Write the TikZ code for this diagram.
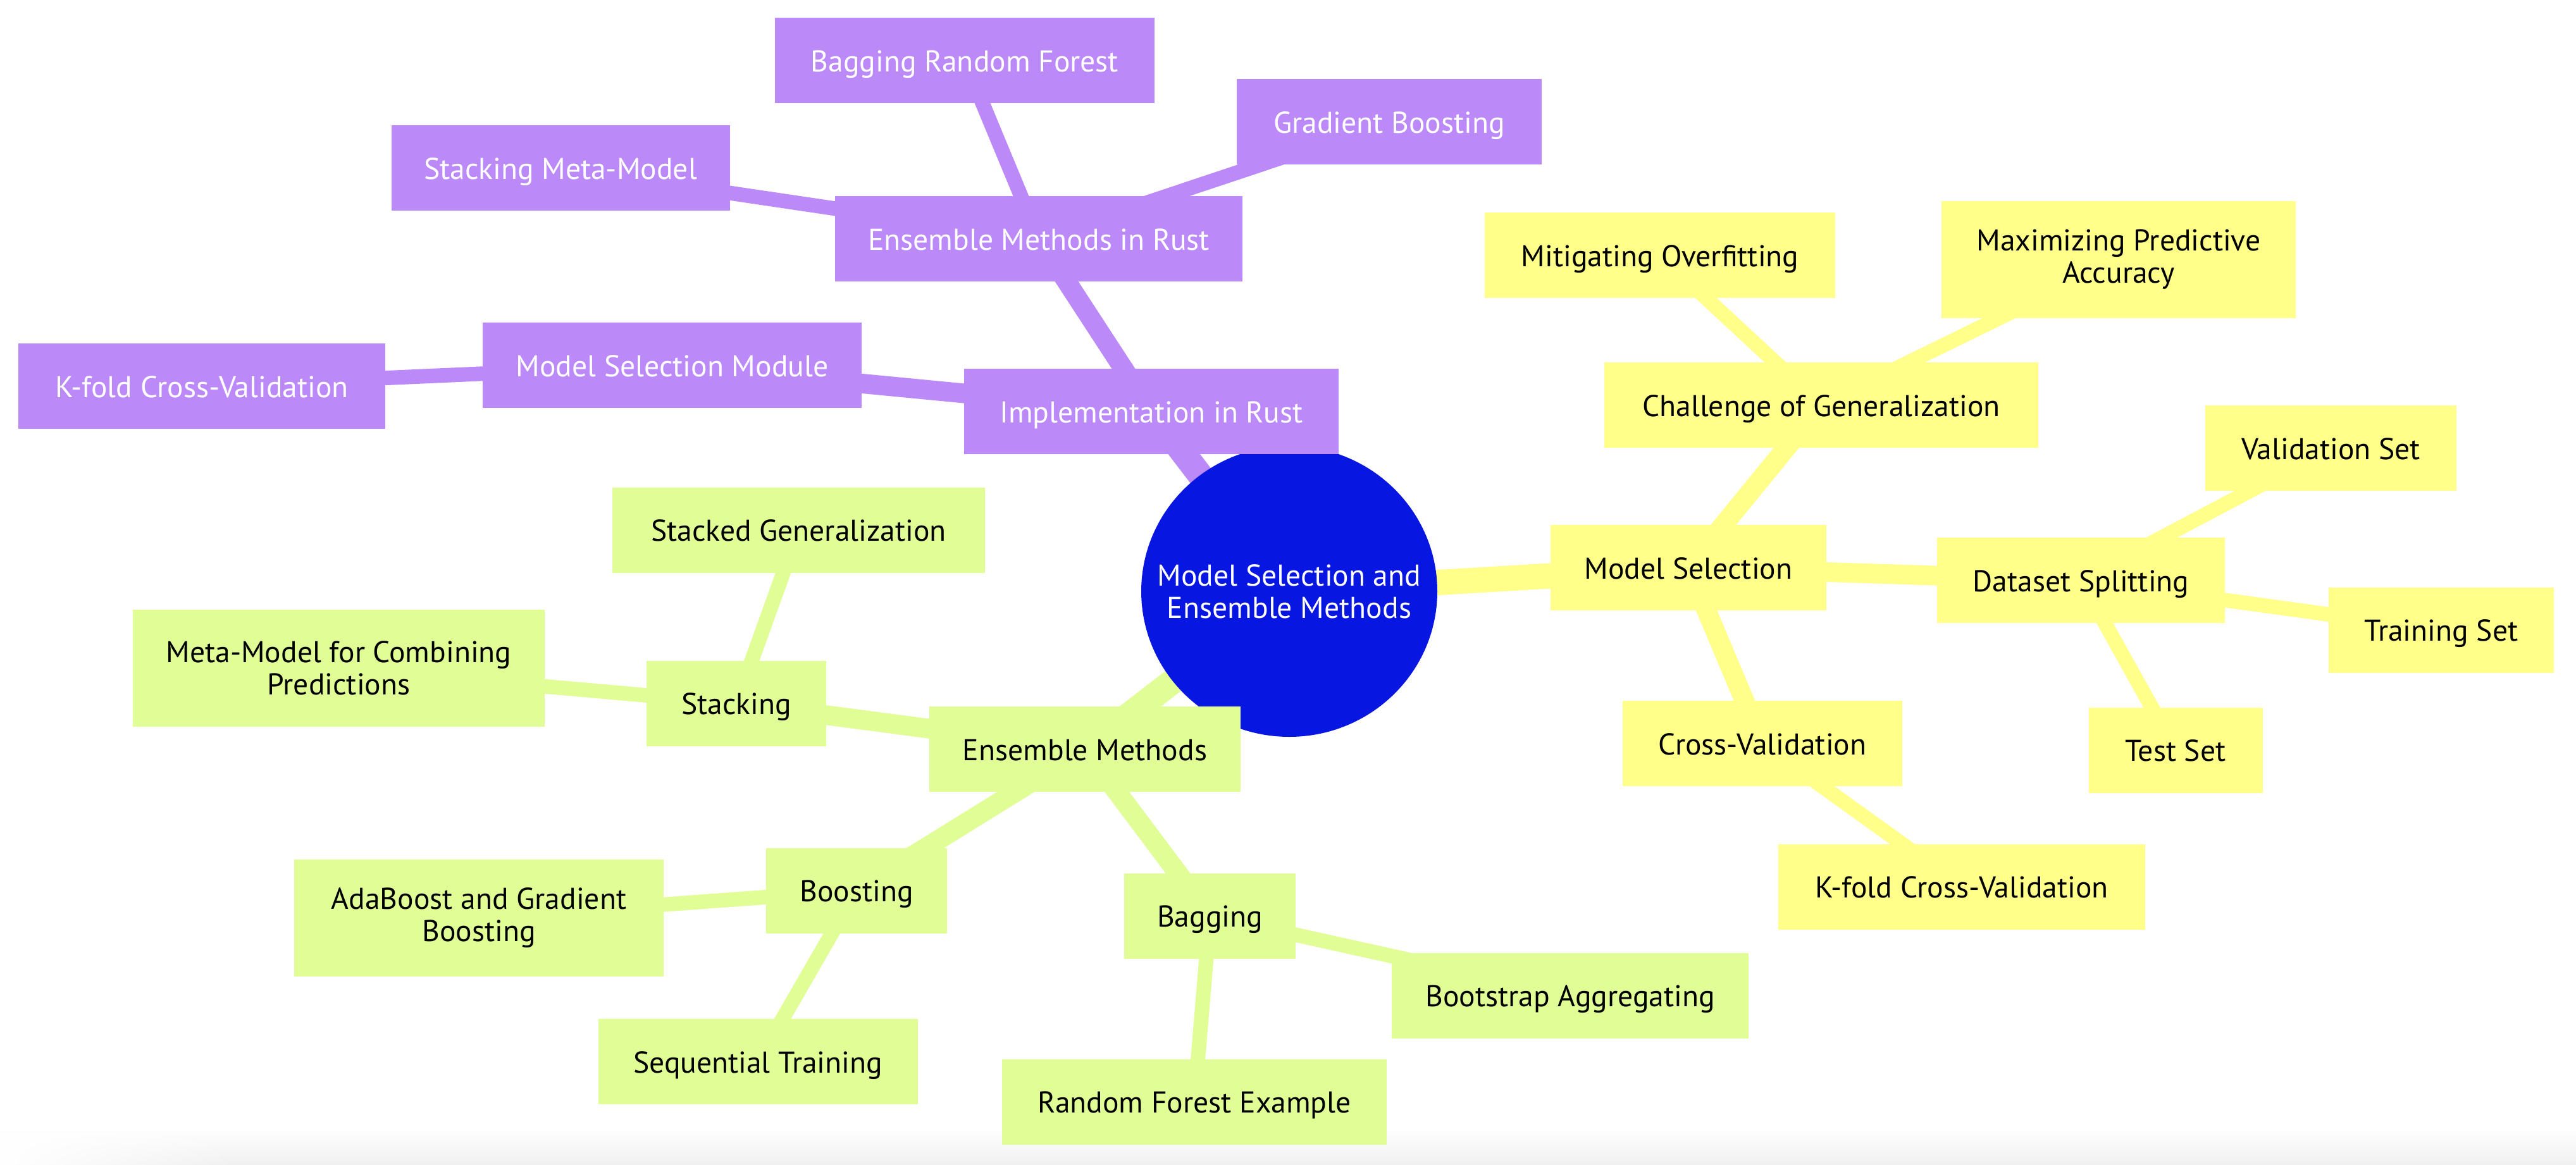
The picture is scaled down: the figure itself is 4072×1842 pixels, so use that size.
\documentclass[tikz,border=0pt]{standalone}
\usepackage{fontspec}
\setmainfont{PT Sans}
\usetikzlibrary{shapes.geometric,backgrounds,fadings}
\definecolor{purp}{RGB}{187,138,248}
\definecolor{yel}{RGB}{255,255,138}
\definecolor{grn}{RGB}{224,253,150}
\definecolor{rootblue}{RGB}{8,22,226}
\tikzfading[name=fadeR, left color=transparent!0, right color=transparent!100]
\begin{document}
\begin{tikzpicture}[x=0.25pt,y=-0.25pt,
  every node/.style={inner sep=0pt,outer sep=0pt},
  txt/.style={align=center,font=\fontsize{11.9pt}{12.75pt}\selectfont},
  mm/.style={rectangle,txt,minimum height=33.75pt},
  two/.style={minimum height=46.25pt},
  one/.style={text height=8.8pt,text depth=0pt},
  pnode/.style={mm,fill=purp,text=white},
  ynode/.style={mm,fill=yel,text=black},
  gnode/.style={mm,fill=grn,text=black},
  e1/.style={line width=10pt},
  e2/.style={line width=7.75pt},
  e3/.style={line width=5.75pt},
]
\useasboundingbox (0,0) rectangle (4072,1842);

\node[ellipse,fill=rootblue,minimum width=117pt,minimum height=115pt] (root) at (2038,935) {};
\node[txt,text=white] (roottext) at (root.center) {Model Selection and\\Ensemble Methods};

\node[pnode,one,minimum width=150pt] (brf) at (1525,95.5) {Bagging Random Forest};
\node[pnode,one,minimum width=120.5pt] (gb) at (2196,192.5) {Gradient Boosting};
\node[pnode,one,minimum width=133.75pt] (smm) at (886,265.5) {Stacking Meta-Model};
\node[pnode,one,minimum width=161pt] (emr) at (1642,377.5) {Ensemble Methods in Rust};
\node[ynode,one,minimum width=138.5pt] (mo) at (2624,403.5) {Mitigating Overfitting};
\node[ynode,two,minimum width=140pt] (mpa) at (3349,410.5) {Maximizing Predictive\\Accuracy};
\node[pnode,one,minimum width=149.75pt] (msm) at (1062.5,577.5) {Model Selection Module};
\node[pnode,one,minimum width=145pt] (kfp) at (319,610.5) {K-fold Cross-Validation};
\node[pnode,one,minimum width=148pt] (ir) at (1820,650.5) {Implementation in Rust};
\node[ynode,one,minimum width=171.5pt] (cg) at (2879,640.5) {Challenge of Generalization};
\node[ynode,one,minimum width=99.25pt] (vs) at (3684.5,708.5) {Validation Set};
\node[gnode,one,minimum width=147.25pt] (sg) at (1262.5,838) {Stacked Generalization};
\node[ynode,one,minimum width=109pt] (ms) at (2669,897.5) {Model Selection};
\node[ynode,one,minimum width=113.75pt] (ds) at (3289.5,917.5) {Dataset Splitting};
\node[gnode,two,minimum width=162.75pt] (mmc) at (535.5,1056.5) {Meta-Model for Combining\\Predictions};
\node[ynode,one,minimum width=89pt] (ts) at (3859,996) {Training Set};
\node[gnode,one,minimum width=71pt] (st) at (1164,1112) {Stacking};
\node[gnode,one,minimum width=123.1pt] (em) at (1715,1184.5) {Ensemble Methods};
\node[ynode,one,minimum width=68.75pt] (tes) at (3439,1186) {Test Set};
\node[ynode,one,minimum width=110.5pt] (cv) at (2786,1175.5) {Cross-Validation};
\node[ynode,one,minimum width=145pt] (kfy) at (3101,1402) {K-fold Cross-Validation};
\node[gnode,two,minimum width=146pt] (ab) at (757,1451.5) {AdaBoost and Gradient\\Boosting};
\node[gnode,one,minimum width=71.5pt] (bo) at (1354,1408) {Boosting};
\node[gnode,one,minimum width=67.75pt] (ba) at (1912.5,1448) {Bagging};
\node[gnode,one,minimum width=141pt] (bag) at (2482,1574) {Bootstrap Aggregating};
\node[gnode,one,minimum width=126.25pt] (seq) at (1198,1678.5) {Sequential Training};
\node[gnode,one,minimum width=152pt] (rfe) at (1888,1742) {Random Forest Example};

\begin{pgfonlayer}{background}
  \fill[white] (0,0) rectangle (4072,1842);
  \shade[top color=white,bottom color=black!6] (0,1785) rectangle (4072,1842);
  \fill[white,path fading=fadeR] (0,1780) rectangle (380,1842);
  % purple branch
  \draw[purp,e1] (root.center) -- (ir.center);
  \draw[purp,e2] (ir.center) -- (emr.center);
  \draw[purp,e2] (ir.center) -- (msm.center);
  \draw[purp,e3] (emr.center) -- (brf.center);
  \draw[purp,e3] (emr.center) -- (gb.center);
  \draw[purp,e3] (emr.center) -- (smm.center);
  \draw[purp,e3] (msm.center) -- (kfp.center);
  % yellow branch
  \draw[yel,e1] (root.center) -- (ms.center);
  \draw[yel,e2] (ms.center) -- (cg.center);
  \draw[yel,e2] (ms.center) -- (ds.center);
  \draw[yel,e2] (ms.center) -- (cv.center);
  \draw[yel,e3] (cg.center) -- (mo.center);
  \draw[yel,e3] (cg.center) -- (mpa.center);
  \draw[yel,e3] (ds.center) -- (vs.center);
  \draw[yel,e3] (ds.center) -- (ts.center);
  \draw[yel,e3] (ds.center) -- (tes.center);
  \draw[yel,e3] (cv.center) -- (kfy.center);
  % green branch
  \draw[grn,e1] (root.center) -- (em.center);
  \draw[grn,e2] (em.center) -- (st.center);
  \draw[grn,e2] (em.center) -- (bo.center);
  \draw[grn,e2] (em.center) -- (ba.center);
  \draw[grn,e3] (st.center) -- (sg.center);
  \draw[grn,e3] (st.center) -- (mmc.center);
  \draw[grn,e3] (bo.center) -- (ab.center);
  \draw[grn,e3] (bo.center) -- (seq.center);
  \draw[grn,e3] (ba.center) -- (bag.center);
  \draw[grn,e3] (ba.center) -- (rfe.center);
\end{pgfonlayer}
\end{tikzpicture}
\end{document}
